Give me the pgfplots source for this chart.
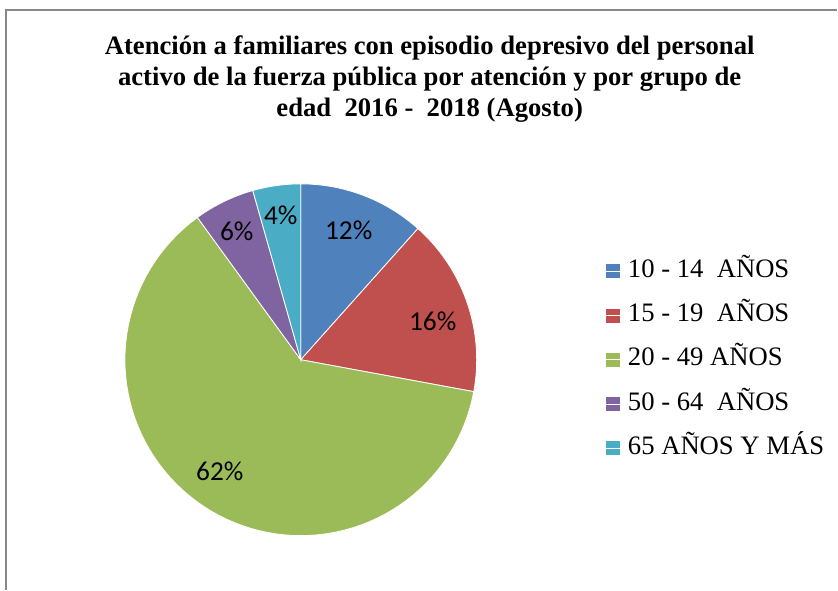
\documentclass[border=0pt]{standalone}
\usepackage{pgfplots}
\pgfplotsset{compat=1.18}
\usepackage{fontspec}
\setmainfont{Liberation Serif}
\newfontfamily\labelfont{Carlito}
\definecolor{cA}{HTML}{4F81BD}
\definecolor{cB}{HTML}{C0504D}
\definecolor{cC}{HTML}{9BBB59}
\definecolor{cD}{HTML}{8064A2}
\definecolor{cE}{HTML}{4BACC6}
% data (percent shares)
\def\vA{11.6}\def\vB{16.3}\def\vC{62.1}\def\vD{5.6}\def\vE{4.4}
\pgfmathsetmacro\aO{90}
\pgfmathsetmacro\aA{\aO-3.6*\vA}
\pgfmathsetmacro\aB{\aA-3.6*\vB}
\pgfmathsetmacro\aC{\aB-3.6*\vC}
\pgfmathsetmacro\aD{\aC-3.6*\vD}
\pgfmathsetmacro\aE{\aD-3.6*\vE}
\def\cx{301}\def\cy{230}\def\R{176}
\begin{document}
\begin{tikzpicture}
\begin{axis}[x=0.75pt,y=0.75pt,xmin=0,xmax=838,ymin=0,ymax=590,
  hide axis, clip=false,
  legend cell align=left,
  legend image code/.code={\fill[#1,draw=none] (0pt,-5.2pt) rectangle (10.5pt,5.2pt);\path (0pt,0pt) -- (13.5pt,0pt);},
  legend style={at={(axis cs:602,334)},anchor=north west,draw=none,fill=none,
    font=\fontsize{20}{22}\selectfont,row sep=14.2pt,
    nodes={text height=13.5pt,text depth=4.5pt,inner ysep=0.5pt,inner xsep=2.5pt}},
  every axis plot/.append style={draw=white,line width=0.6pt,samples=80}]
\path (axis cs:0,0) rectangle (axis cs:838,590);
\addplot[fill=cA,domain=\aA:\aO] ({\cx+\R*cos(x)},{\cy+\R*sin(x)}) -- (axis cs:\cx,\cy) -- cycle;
\addlegendentry{10 - 14\ \ AÑOS}
\addplot[fill=cB,domain=\aB:\aA] ({\cx+\R*cos(x)},{\cy+\R*sin(x)}) -- (axis cs:\cx,\cy) -- cycle;
\addlegendentry{15 - 19\ \ AÑOS}
\addplot[fill=cC,domain=\aC:\aB] ({\cx+\R*cos(x)},{\cy+\R*sin(x)}) -- (axis cs:\cx,\cy) -- cycle;
\addlegendentry{20 - 49 AÑOS}
\addplot[fill=cD,domain=\aD:\aC] ({\cx+\R*cos(x)},{\cy+\R*sin(x)}) -- (axis cs:\cx,\cy) -- cycle;
\addlegendentry{50 - 64\ \ AÑOS}
\addplot[fill=cE,domain=\aE:\aD] ({\cx+\R*cos(x)},{\cy+\R*sin(x)}) -- (axis cs:\cx,\cy) -- cycle;
\addlegendentry{65 AÑOS Y MÁS}
% percentage labels
\begin{scope}[every node/.style={font=\labelfont\fontsize{20.5}{22}\selectfont,inner sep=0pt}]
\node at (axis cs:349,360) {12\%};
\node at (axis cs:433,268) {16\%};
\node at (axis cs:220,118) {62\%};
\node at (axis cs:237,359) {6\%};
\node at (axis cs:281,375) {4\%};
\end{scope}
% chart area border
\draw[color=black!47,line width=0.9pt] (axis cs:6,0) -- (axis cs:6,580) -- (axis cs:838,580);
% title
\node[align=center,font=\bfseries\fontsize{20}{23}\selectfont] at (axis cs:430,511)
 {Atención a familiares con episodio depresivo del personal\\activo de la fuerza pública por atención y por grupo de\\edad\ \ 2016 -\ \ 2018 (Agosto)};
\end{axis}
\end{tikzpicture}
\end{document}
